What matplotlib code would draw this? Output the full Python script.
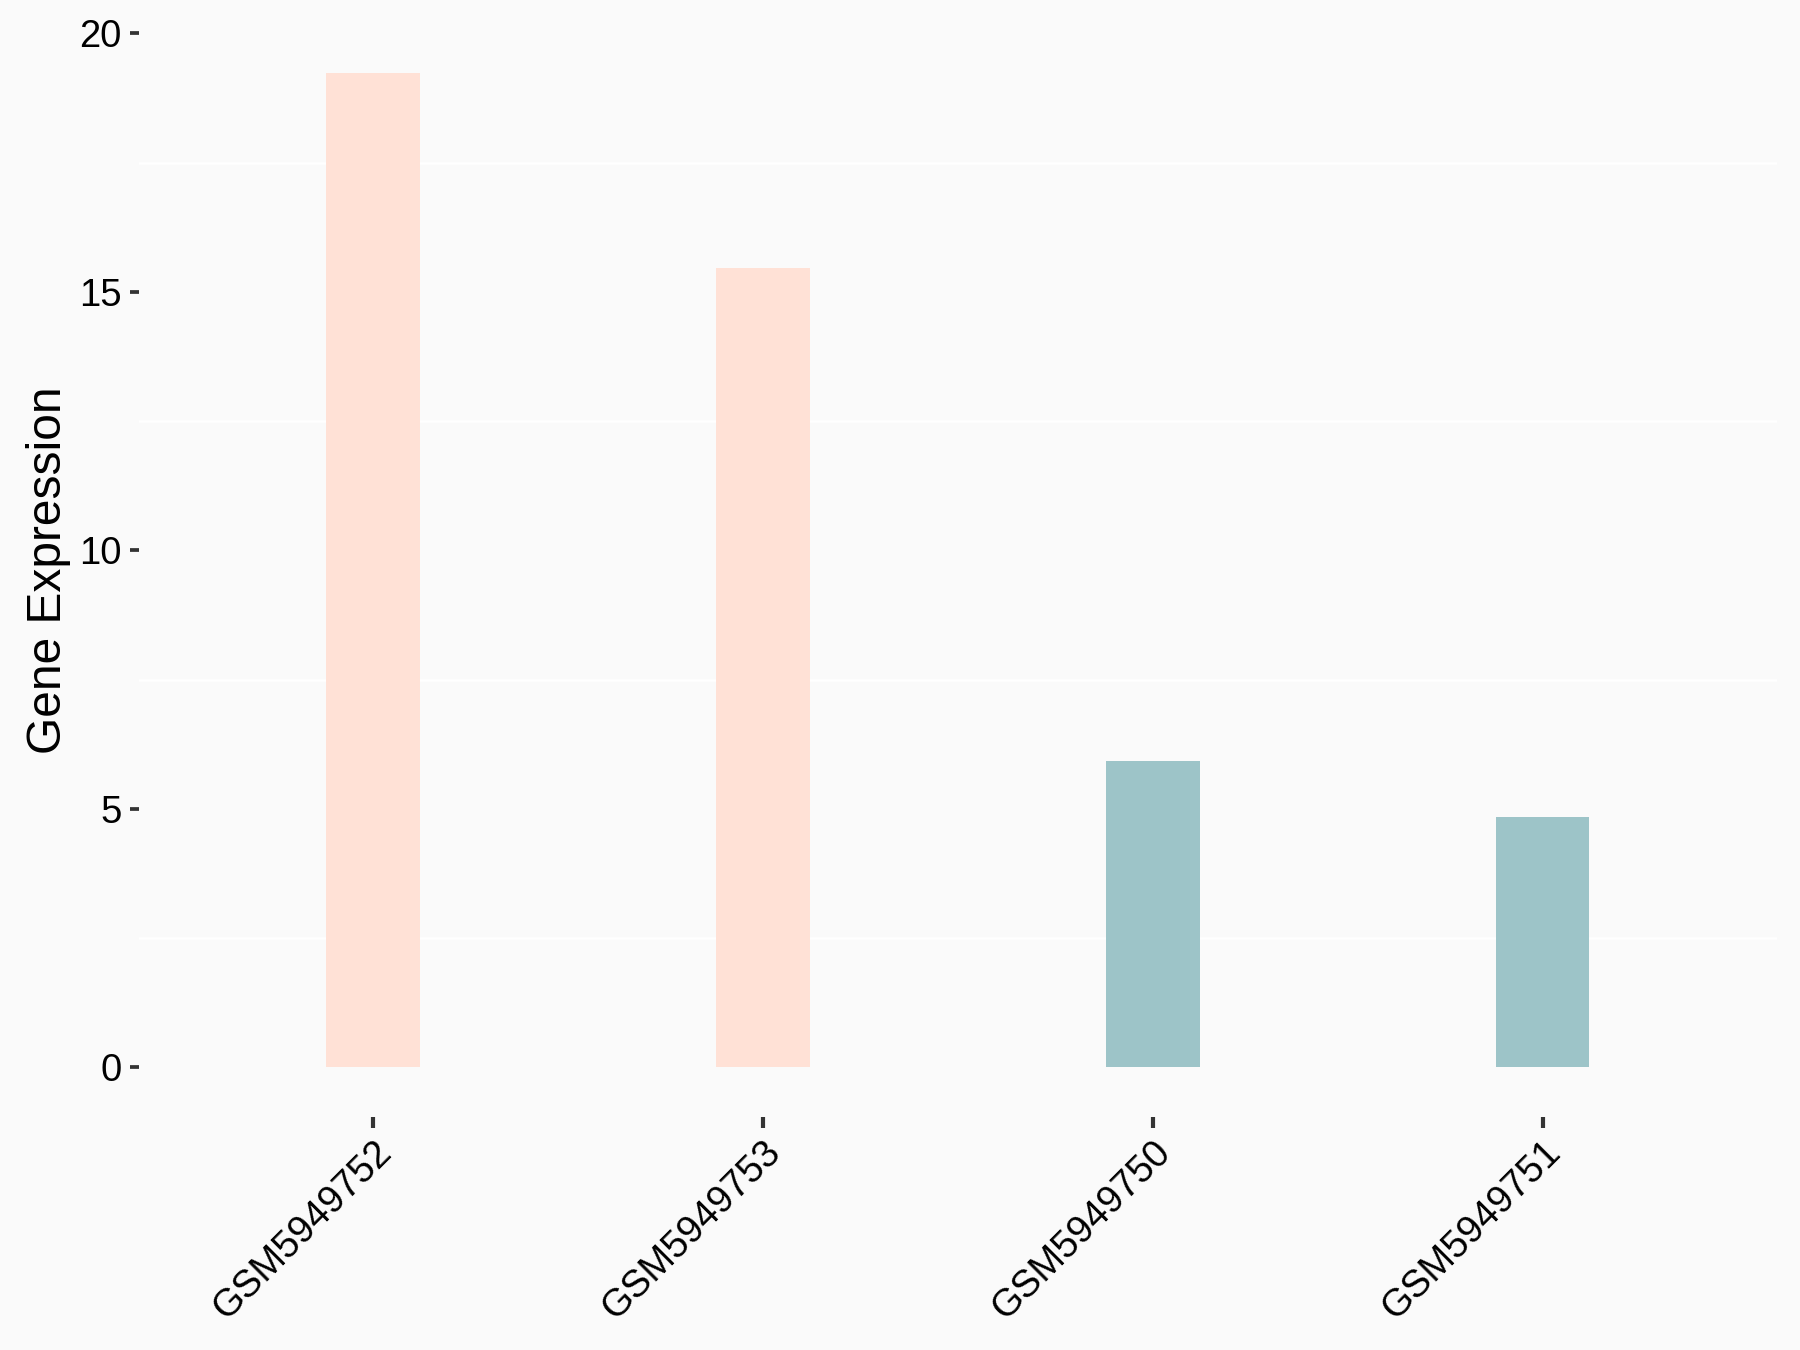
import matplotlib.pyplot as plt
from matplotlib.ticker import MultipleLocator

plt.rcParams['font.family'] = ['Liberation Sans', 'DejaVu Sans']

# === Data ===
samples = ["GSM5949752", "GSM5949753", "GSM5949750", "GSM5949751"]
expression = [19.24, 15.46, 5.92, 4.84]
groups = ["high", "high", "low", "low"]
group_colors = {"high": "#FFE1D6", "low": "#9DC4C8"}

bg = "#FAFAFA"

fig = plt.figure(figsize=(6, 4.5), dpi=300, facecolor=bg)
ax = fig.add_axes([0.0772, 0.1726, 0.9098, 0.8104], facecolor=bg)

x = list(range(1, len(samples) + 1))
ax.bar(x, expression, width=0.24, color=[group_colors[g] for g in groups], zorder=2)

ymax = max(expression)
ax.set_xlim(0.4, len(samples) + 0.6)
ax.set_ylim(-0.05 * ymax, ymax * 1.05)

ax.set_xticks(x)
ax.set_xticklabels(samples, rotation=45, ha="right", va="top", rotation_mode="anchor", fontsize=9.2)
ax.yaxis.set_major_locator(MultipleLocator(5))
ax.yaxis.set_minor_locator(MultipleLocator(2.5))
ax.tick_params(axis="y", which="major", labelsize=9.2, length=2.2, width=0.9, color="#333333", pad=2)
ax.tick_params(axis="y", which="minor", length=0)
ax.tick_params(axis="x", length=2.6, width=1.0, color="#333333", pad=1.5)

ax.grid(True, axis="y", which="minor", color="white", linewidth=0.6, zorder=0)

for s in ax.spines.values():
    s.set_visible(False)

ax.set_ylabel("Gene Expression", fontsize=11.5, labelpad=2)

plt.savefig("out.png", dpi=300, facecolor=bg)
